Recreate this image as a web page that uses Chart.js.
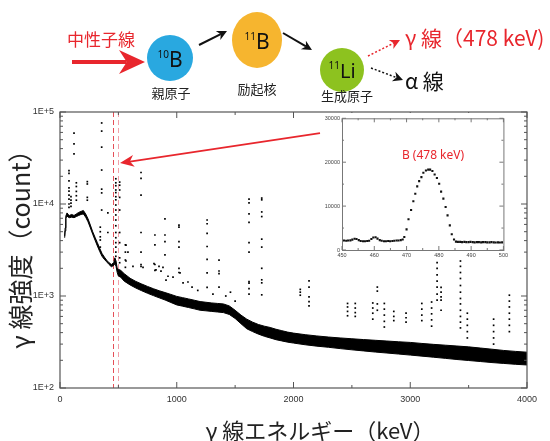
<!DOCTYPE html>
<html>
<head>
<meta charset="utf-8">
<script src="https://cdn.jsdelivr.net/npm/chart.js@4.4.0/dist/chart.umd.min.js"></script>
<style>
  html, body { margin: 0; padding: 0; background: #fff; }
  #wrap { position: relative; width: 550px; height: 441px; overflow: hidden; }
  #mainChart { position: absolute; left: 0; top: 0; }
  #insetBox { position: absolute; left: 322px; top: 113px; width: 188px; height: 146px; background: #fff; }
  #insetLabel { position: absolute; left: 400px; top: 146px; width: 66px; text-align: center;
    font: 12px "Noto Sans", sans-serif; color: #e8262d; white-space: nowrap; }
  #xTitle { position: absolute; left: 200px; width: 240px; top: 414px; text-align: center;
    font: 22px "Noto Sans CJK JP", sans-serif; color: #222; white-space: nowrap; line-height: 30px; }
  #yTitle { position: absolute; left: -91px; top: 228px; width: 220px; height: 30px; text-align: center;
    font: 25px "Noto Sans CJK JP", sans-serif; color: #222; white-space: nowrap; line-height: 30px;
    transform: rotate(-90deg); }
  #diagram { position: absolute; left: 0; top: 0; }
</style>
</head>
<body>
<div id="wrap">
  <canvas id="mainChart" width="550" height="441"></canvas>
  <div id="insetBox"><canvas id="insetChart" width="188" height="146"></canvas></div>
  <div id="insetLabel">B (478 keV)</div>
  <div id="xTitle">γ 線エネルギー（keV）</div>
  <div id="yTitle">γ 線強度（count）</div>
  <svg id="diagram" width="550" height="110" xmlns="http://www.w3.org/2000/svg"></svg>
</div>
<script>
// === Spectrum background band (lower / upper edge of the dense dot cloud) ===
const bandEnergy = [40, 44, 50, 60, 70, 80, 100, 120, 140, 160, 180, 200, 220, 240, 260, 280, 300, 320, 340, 360,
  380, 400, 420, 440, 460, 470, 480, 490, 500, 520, 550, 600, 650, 700, 750, 800, 850, 900, 950, 1000,
  1050, 1100, 1150, 1200, 1250, 1300, 1350, 1400, 1450, 1500, 1550, 1600, 1650, 1700, 1750, 1800, 1850,
  1900, 1950, 2000, 2100, 2200, 2300, 2400, 2500, 2600, 2700, 2800, 2900, 3000, 3100, 3200, 3300, 3400,
  3500, 3600, 3700, 3800, 3900, 4000];
const bandUpper = [4500, 5500, 7400, 8000, 7700, 7500, 7700, 7500, 7800, 8100, 8300, 8500, 7800, 6900, 5900, 5000, 4350, 3800, 3300, 2900,
  2650, 2450, 2300, 2200, 2300, 2600, 2400, 2000, 1950, 1900, 1750, 1560, 1440, 1350, 1270, 1200, 1140, 1090, 1040, 990,
  960, 930, 900, 870, 855, 840, 830, 820, 780, 700, 620, 560, 520, 490, 470, 455, 435,
  420, 405, 395, 380, 368, 358, 350, 343, 336, 330, 324, 318, 313, 305, 298, 292, 286,
  280, 272, 264, 256, 250, 245];
const bandLower = [4300, 5100, 7000, 7400, 7200, 7100, 7200, 7100, 7300, 7500, 7700, 7800, 7200, 6400, 5500, 4700, 4050, 3500, 3050, 2700,
  2500, 2350, 2200, 2080, 2150, 2250, 2100, 1800, 1650, 1600, 1450, 1320, 1220, 1140, 1070, 1010, 955, 905, 850, 800,
  775, 750, 725, 700, 690, 680, 670, 660, 630, 570, 500, 440, 410, 385, 365, 350, 335,
  325, 315, 308, 295, 285, 277, 268, 260, 253, 246, 240, 234, 228, 222, 216, 210, 204,
  199, 194, 189, 185, 181, 178];

// === Isolated peak columns (energy in keV, counts of the dots in each column) ===
const lineEnergy = [77, 94, 120, 140, 234, 345, 357, 410, 478, 511, 560, 694, 813, 899, 1019, 1260, 1362, 1619, 1728,
  2058, 2133, 2463, 2529, 2679, 2718, 2778, 2859, 2964, 3099, 3183, 3230, 3264, 3430, 3489, 3714, 3849];
const lineCounts = [
  [23000, 21500, 17800, 15000, 13800, 12500, 11300, 10000, 9200],
  [12000, 11000, 10200, 9400],
  [59000, 45000, 35000],
  [17000, 15500, 13700, 12300, 11000],
  [17500, 16500, 11800, 11000],
  [5600, 5000, 4400, 4060, 3400],
  [76000, 62000, 41500, 23400, 14500, 13200, 8600],
  [8000, 4900],
  [18800, 17000, 15800, 14200, 13300, 12000, 11100, 9750, 8600, 7600, 6700, 5800, 4900, 4300, 3800, 3400, 3000, 2700],
  [17300, 16000, 14200, 11800, 8600, 4900, 3800, 2600, 2300],
  [3600, 3000, 2460, 2050],
  [22000, 19000, 12500, 4900, 3000, 2200, 2100],
  [4600, 3600, 2200, 1900],
  [6900, 4600, 3900, 2800],
  [5900, 5600, 3900, 3400, 2000, 1800],
  [6700, 6100, 4800, 3450, 2500, 1780, 1240],
  [2460, 1870, 1750, 1250],
  [11300, 10300, 7800, 6300, 3800, 3000, 1430, 1380, 1200, 1050],
  [11600, 11100, 8200, 7300, 4150, 3400, 2000, 1500, 1390, 1030],
  [1180, 1100, 1020],
  [1460, 1250, 980, 870, 780],
  [830, 760, 680, 610],
  [830, 740, 660, 600],
  [840, 740, 650, 560],
  [1250, 1130, 820, 700],
  [830, 720, 620, 530, 460],
  [680, 600, 540],
  [650, 580, 520],
  [830, 720, 620, 540],
  [860, 740, 640, 550, 470],
  [2600, 2300, 2000, 1700, 1450, 1250, 1050, 900],
  [1240, 1100, 980, 900, 700],
  [2700, 2400, 2100, 1800, 1550, 1300, 1100, 940, 820, 700, 600, 520, 450],
  [650, 560, 480, 410, 350],
  [560, 480, 410, 350, 300],
  [1020, 880, 760, 650, 560, 480, 410]
];

// === Loose dots scattered above the band (500–1500 keV) ===
const looseEnergy = [565, 582, 565, 625, 711, 805, 822, 848, 865, 882, 908, 925, 968, 1028, 1054, 1096, 1131, 1180, 1310, 1420, 1460, 1500];
const looseCounts = [3580, 3000, 2400, 2100, 2050, 2250, 1920, 2100, 1860, 2050, 1490, 1640, 1600, 1780, 1390, 1420, 1250, 1150, 1050, 1000, 1100, 880];

// === Inset: zoom on the 478 keV line ===
const insetEnergy = [450.0, 450.6, 451.3, 451.9, 452.6, 453.2, 453.9, 454.5, 455.2, 455.8, 456.5, 457.1, 457.8, 458.4,
  459.1, 459.7, 460.4, 461.0, 461.7, 462.3, 463.0, 463.6, 464.3, 464.9, 465.6, 466.2, 466.9, 467.5, 468.2, 468.8,
  469.3, 470.0, 470.6, 471.4, 472.1, 472.7, 473.3, 473.9, 474.6, 475.2, 476.0, 476.7, 477.3, 478.0, 478.7, 479.4,
  480.1, 480.7, 481.4, 482.1, 482.7, 483.4, 484.0, 484.7, 485.3, 485.9, 486.6, 487.2, 487.9, 488.5, 489.2, 489.8,
  490.5, 491.1, 491.8, 492.4, 493.1, 493.7, 494.4, 495.0, 495.7, 496.3, 497.0, 497.6, 498.3, 498.9, 499.6];
const insetCounts = [2100, 2150, 2100, 2150, 2200, 2350, 2550, 2500, 2250, 2050, 2000, 2000, 2050, 2100,
  2500, 2850, 2900, 2600, 2250, 2100, 2000, 2000, 2050, 2000, 2050, 2100, 2150, 2150, 2250, 2400,
  2950, 4700, 7000, 9100, 11100, 12800, 14500, 15700, 16600, 17600, 18100, 18300, 18300, 18000, 17200, 16400,
  15100, 13300, 11700, 9800, 7900, 5600, 3600, 2400, 1900, 1850, 1850, 1800, 1850, 1800, 1800, 1850,
  1800, 1750, 1800, 1800, 1750, 1800, 1800, 1750, 1750, 1800, 1750, 1700, 1750, 1700, 1750];

// === Tick labels ===
const mainXTicks = [0, 1000, 2000, 3000, 4000];
const mainYTicks = ["1E+2", "1E+3", "1E+4", "1E+5"];
const insetXTicks = [450, 460, 470, 480, 490, 500];
const insetYTicks = [0, 10000, 20000, 30000];

// marked window (dashed lines) and pointer arrow, in data units
const windowEnergy = [450, 500];
const arrowFrom = [2227, 59000];
const arrowTo = [514, 27900];

const RED = "#e8262d";

// === Build scatter points from the peak columns and loose dots ===
const peakPoints = [];
lineEnergy.forEach((e, i) => {
  lineCounts[i].forEach((c) => peakPoints.push({ x: e, y: c }));
});
looseEnergy.forEach((e, i) => peakPoints.push({ x: e, y: looseCounts[i] }));

// === Frame with inward ticks, dashed window and red arrow (main chart) ===
const mainFrame = {
  id: "mainFrame",
  beforeDatasetsDraw(chart) {
    const { ctx, chartArea: a, scales } = chart;
    ctx.save();
    ctx.lineWidth = 1;
    ctx.setLineDash([5, 3]);
    ["rgba(226,60,70,0.9)", "rgba(240,150,160,0.9)"].forEach((col, i) => {
      const px = Math.round(scales.x.getPixelForValue(windowEnergy[i])) + 0.5;
      ctx.strokeStyle = col;
      ctx.beginPath();
      ctx.moveTo(px, a.top);
      ctx.lineTo(px, a.bottom);
      ctx.stroke();
    });
    ctx.restore();
  },
  afterDatasetsDraw(chart) {
    const { ctx, chartArea: a, scales } = chart;
    ctx.save();
    ctx.strokeStyle = "#555";
    ctx.lineWidth = 1.2;
    ctx.strokeRect(a.left, a.top, a.right - a.left, a.bottom - a.top);
    ctx.lineWidth = 1;
    ctx.beginPath();
    // x ticks every 500 keV, longer at 1000
    for (let e = 0; e <= 4000; e += 500) {
      const px = scales.x.getPixelForValue(e);
      const len = e % 1000 === 0 ? 6 : 3;
      ctx.moveTo(px, a.bottom); ctx.lineTo(px, a.bottom - len);
      ctx.moveTo(px, a.top); ctx.lineTo(px, a.top + len);
    }
    // log y ticks
    for (let d = 100; d <= 100000; d *= 10) {
      for (let k = 1; k <= 9; k++) {
        const v = d * k;
        if (v > 100000) break;
        const py = scales.y.getPixelForValue(v);
        const len = k === 1 ? 6 : 3;
        ctx.moveTo(a.left, py); ctx.lineTo(a.left + len, py);
        ctx.moveTo(a.right, py); ctx.lineTo(a.right - len, py);
      }
    }
    ctx.stroke();

    // red pointer arrow
    const x1 = scales.x.getPixelForValue(arrowFrom[0]);
    const y1 = scales.y.getPixelForValue(arrowFrom[1]);
    const x2 = scales.x.getPixelForValue(arrowTo[0]);
    const y2 = scales.y.getPixelForValue(arrowTo[1]);
    const ang = Math.atan2(y2 - y1, x2 - x1);
    ctx.strokeStyle = RED;
    ctx.fillStyle = RED;
    ctx.lineWidth = 1.8;
    ctx.beginPath();
    ctx.moveTo(x1, y1);
    ctx.lineTo(x2 - 10 * Math.cos(ang), y2 - 10 * Math.sin(ang));
    ctx.stroke();
    ctx.translate(x2, y2);
    ctx.rotate(ang);
    ctx.beginPath();
    ctx.moveTo(0, 0);
    ctx.lineTo(-14, -6);
    ctx.lineTo(-10, 0);
    ctx.lineTo(-14, 6);
    ctx.closePath();
    ctx.fill();
    ctx.restore();
  },
};

const mainChart = new Chart(document.getElementById("mainChart"), {
  type: "scatter",
  data: {
    datasets: [
      {
        type: "line",
        data: bandEnergy.map((e, i) => ({ x: e, y: bandUpper[i] })),
        borderColor: "#000",
        backgroundColor: "#000",
        borderWidth: 1,
        pointRadius: 0,
        tension: 0,
        fill: "+1",
      },
      {
        type: "line",
        data: bandEnergy.map((e, i) => ({ x: e, y: bandLower[i] })),
        borderColor: "#000",
        borderWidth: 1,
        pointRadius: 0,
        tension: 0,
        fill: false,
      },
      {
        data: peakPoints,
        pointStyle: "rect",
        pointRadius: 1.2,
        backgroundColor: "#000",
        borderWidth: 0,
      },
    ],
  },
  options: {
    responsive: false,
    animation: false,
    events: [],
    layout: { padding: { top: 112, right: 23, left: 0, bottom: 0 } },
    plugins: { legend: { display: false }, tooltip: { enabled: false } },
    scales: {
      x: {
        type: "linear",
        min: 0,
        max: 4000,
        afterBuildTicks: (s) => { s.ticks = mainXTicks.map((v) => ({ value: v })); },
        afterFit: (s) => { s.height = 53; },
        grid: { display: false, drawTicks: false },
        border: { display: false },
        ticks: {
          padding: 6,
          maxRotation: 0,
          color: "#333",
          font: { size: 9, family: "Liberation Sans" },
          callback: (v) => String(v),
        },
      },
      y: {
        type: "logarithmic",
        min: 100,
        max: 100000,
        afterBuildTicks: (s) => { s.ticks = [100, 1000, 10000, 100000].map((v) => ({ value: v })); },
        afterFit: (s) => { s.width = 60; },
        grid: { display: false, drawTicks: false },
        border: { display: false },
        ticks: {
          padding: 6,
          color: "#333",
          font: { size: 9, family: "Liberation Sans" },
          callback: (v, i) => mainYTicks[i],
        },
      },
    },
  },
  plugins: [mainFrame],
});

// === Inset frame with inward ticks ===
const insetFrame = {
  id: "insetFrame",
  afterDatasetsDraw(chart) {
    const { ctx, chartArea: a, scales } = chart;
    ctx.save();
    ctx.strokeStyle = "#777";
    ctx.lineWidth = 1;
    ctx.strokeRect(a.left + 0.5, a.top + 0.5, a.right - a.left, a.bottom - a.top);
    ctx.beginPath();
    for (let e = 450; e <= 500; e += 5) {
      const px = scales.x.getPixelForValue(e);
      const len = e % 10 === 0 ? 4 : 2;
      ctx.moveTo(px, a.bottom); ctx.lineTo(px, a.bottom - len);
      ctx.moveTo(px, a.top); ctx.lineTo(px, a.top + len);
    }
    for (let c = 0; c <= 30000; c += 5000) {
      const py = scales.y.getPixelForValue(c);
      const len = c % 10000 === 0 ? 4 : 2;
      ctx.moveTo(a.left, py); ctx.lineTo(a.left + len, py);
      ctx.moveTo(a.right, py); ctx.lineTo(a.right - len, py);
    }
    ctx.stroke();
    ctx.restore();
  },
};

const insetChart = new Chart(document.getElementById("insetChart"), {
  type: "scatter",
  data: {
    datasets: [
      {
        data: insetEnergy.map((e, i) => ({ x: e, y: insetCounts[i] })),
        pointStyle: "rect",
        pointRadius: 1.5,
        backgroundColor: "#111",
        borderWidth: 0,
      },
    ],
  },
  options: {
    responsive: false,
    animation: false,
    events: [],
    layout: { padding: { top: 5, right: 5, left: 0, bottom: 0 } },
    plugins: { legend: { display: false }, tooltip: { enabled: false } },
    scales: {
      x: {
        type: "linear",
        min: 450,
        max: 500,
        afterBuildTicks: (s) => { s.ticks = insetXTicks.map((v) => ({ value: v })); },
        afterFit: (s) => { s.height = 9; },
        grid: { display: false, drawTicks: false },
        border: { display: false },
        ticks: { padding: 2, maxRotation: 0, color: "#444", font: { size: 5.5, family: "Liberation Sans" }, callback: (v) => String(v) },
      },
      y: {
        type: "linear",
        min: 0,
        max: 30000,
        afterBuildTicks: (s) => { s.ticks = insetYTicks.map((v) => ({ value: v })); },
        afterFit: (s) => { s.width = 20; },
        grid: { display: false, drawTicks: false },
        border: { display: false },
        ticks: { padding: 2, color: "#444", font: { size: 5.5, family: "Liberation Sans" }, callback: (v) => String(v) },
      },
    },
  },
  plugins: [insetFrame],
});

// === Reaction diagram above the chart (SVG) ===
const svg = document.getElementById("diagram");
const NS = "http://www.w3.org/2000/svg";

function addEl(tag, attrs, text) {
  const el = document.createElementNS(NS, tag);
  Object.entries(attrs).forEach(([k, v]) => el.setAttribute(k, v));
  if (text !== undefined) el.textContent = text;
  svg.appendChild(el);
  return el;
}

function arrow(x1, y1, x2, y2, color, width, headLen, headHalf, dash) {
  const ang = Math.atan2(y2 - y1, x2 - x1);
  const c = Math.cos(ang), s = Math.sin(ang);
  addEl("line", {
    x1, y1, x2: x2 - headLen * 0.7 * c, y2: y2 - headLen * 0.7 * s,
    stroke: color, "stroke-width": width, "stroke-dasharray": dash || "none",
  });
  const bx = x2 - headLen * c, by = y2 - headLen * s;
  const nx = x2 - headLen * 0.7 * c, ny = y2 - headLen * 0.7 * s;
  const pts = [
    [x2, y2],
    [bx - headHalf * s, by + headHalf * c],
    [nx, ny],
    [bx + headHalf * s, by - headHalf * c],
  ].map((p) => p.join(",")).join(" ");
  addEl("polygon", { points: pts, fill: color });
}

const JP = "'Noto Sans CJK JP', sans-serif";

addEl("text", { x: 67, y: 46, fill: RED, "font-size": 17, "font-family": JP }, "中性子線");
arrow(72, 62, 145, 62, RED, 4, 26, 12);

addEl("circle", { cx: 170, cy: 58, r: 23, fill: "#29a8e0" });
const t1 = addEl("text", { x: 170, y: 67, "text-anchor": "middle", fill: "#111", "font-family": "'Noto Sans', sans-serif" });
t1.innerHTML = '<tspan font-size="10" dy="-9">10</tspan><tspan font-size="21" dy="9">B</tspan>';
addEl("text", { x: 171, y: 98, "text-anchor": "middle", fill: "#222", "font-size": 13, "font-family": JP }, "親原子");

arrow(199, 45, 227, 31, "#111", 2, 10, 5);

addEl("ellipse", { cx: 257, cy: 40, rx: 25, ry: 28, fill: "#f6b52f" });
const t2 = addEl("text", { x: 257, y: 49, "text-anchor": "middle", fill: "#111", "font-family": "'Noto Sans', sans-serif" });
t2.innerHTML = '<tspan font-size="10" dy="-9">11</tspan><tspan font-size="21" dy="9">B</tspan>';
addEl("text", { x: 257, y: 94, "text-anchor": "middle", fill: "#222", "font-size": 13, "font-family": JP }, "励起核");

arrow(283, 33, 312, 50, "#111", 2, 10, 5);

addEl("circle", { cx: 342, cy: 70, r: 22, fill: "#8dc21f" });
const t3 = addEl("text", { x: 342, y: 78, "text-anchor": "middle", fill: "#111", "font-family": "'Noto Sans', sans-serif" });
t3.innerHTML = '<tspan font-size="10" dy="-9">11</tspan><tspan font-size="20" dy="9">Li</tspan>';
addEl("text", { x: 347, y: 101, "text-anchor": "middle", fill: "#222", "font-size": 13, "font-family": JP }, "生成原子");

arrow(368, 56, 400, 40, RED, 1.5, 10, 5, "2,2");
arrow(371, 68, 403, 80, "#111", 1.5, 10, 5, "2,2");

addEl("text", { x: 405, y: 46, fill: RED, "font-size": 21, "font-family": JP }, "γ 線（478 keV)");
addEl("text", { x: 405, y: 89, fill: "#111", "font-size": 21, "font-family": JP }, "α 線");
</script>
</body>
</html>
